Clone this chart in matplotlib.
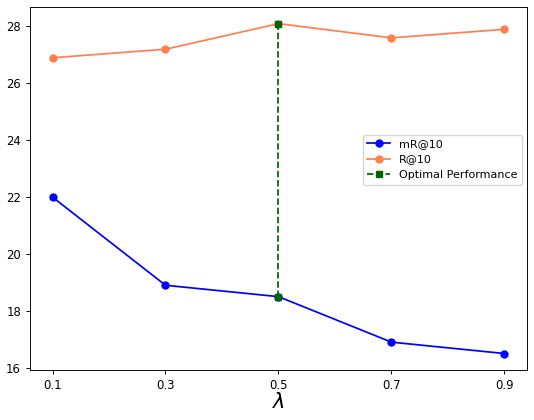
import matplotlib
matplotlib.use("Agg")
from matplotlib import pyplot as plt

lambdas = [0.1, 0.3, 0.5, 0.7, 0.9]
mr10 = [22.0, 18.9, 18.5, 16.9, 16.5]
r10 = [26.9, 27.2, 28.1, 27.6, 27.9]
best_lambda = 0.5
best_idx = lambdas.index(best_lambda)

# original looks like a default figure shrunk to ~83%
s = 0.834
plt.rcParams.update({
    "font.size": 10 * s,
    "lines.linewidth": 1.5 * s,
    "lines.markersize": 6 * s,
    "axes.linewidth": 0.8 * s,
    "xtick.major.size": 3.5 * s,
    "ytick.major.size": 3.5 * s,
    "xtick.major.width": 0.8 * s,
    "ytick.major.width": 0.8 * s,
})

fig, ax = plt.subplots(figsize=(5.34, 4.2), dpi=100)
plt.subplots_adjust(left=0.056, right=0.987, top=0.983, bottom=0.119)

ax.plot(lambdas, mr10, marker="o", color="blue", label="mR@10")
ax.plot(lambdas, r10, marker="o", color="coral", label="R@10")
ax.plot([best_lambda, best_lambda], [mr10[best_idx], r10[best_idx]],
        linestyle="--", marker="s", color="darkgreen", label="Optimal Performance")

ax.set_xticks(lambdas)
ax.set_xticklabels([str(v) for v in lambdas])
ax.set_xlabel(r"$\lambda$", fontsize=18 * s, labelpad=0)
ax.legend(loc="center right", bbox_to_anchor=(1.0, 0.58), fontsize=8)

plt.savefig("out.png")
